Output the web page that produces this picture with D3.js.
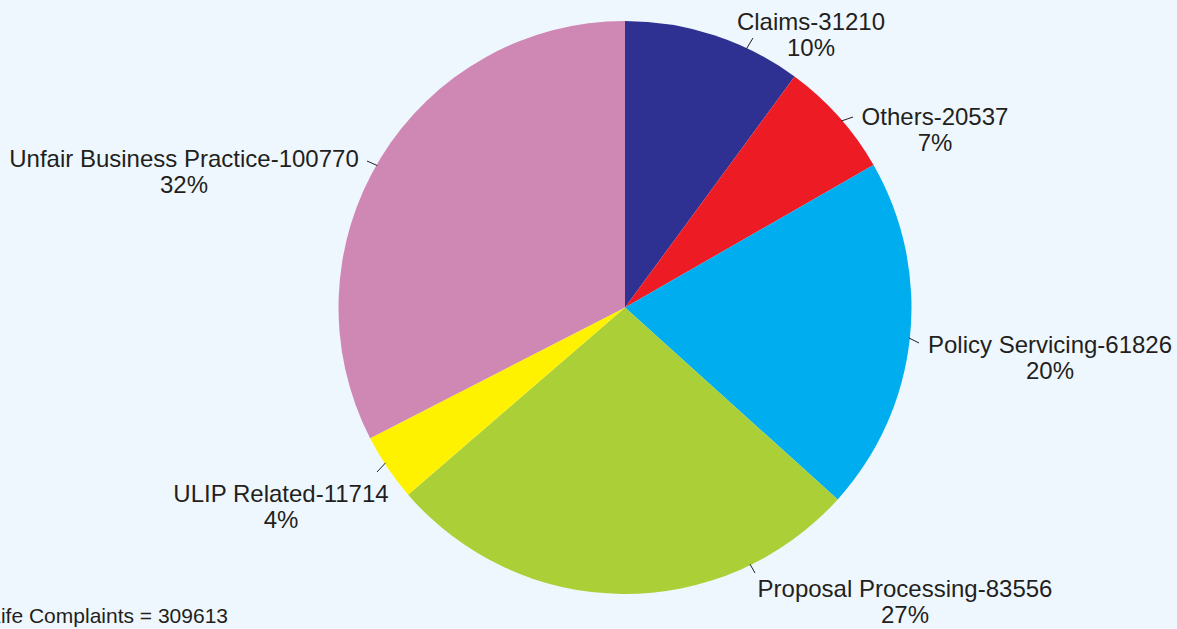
<!DOCTYPE html>
<html>
<head>
<meta charset="utf-8">
<script src="https://cdn.jsdelivr.net/npm/d3@7"></script>
<style>
  html, body { margin: 0; padding: 0; background: #eff7fe; }
  svg { display: block; font-family: "Liberation Sans", Arial, sans-serif; }
</style>
</head>
<body>
<div id="chart"></div>
<script>
// Data
var categories = ["Claims", "Others", "Policy Servicing", "Proposal Processing", "ULIP Related", "Unfair Business Practice"];
var values = [31210, 20537, 61826, 83556, 11714, 100770];
var percentLabels = ["10%", "7%", "20%", "27%", "4%", "32%"];
var totalLabel = "Total Life Complaints = 309613";

var colors = ["#2e3192", "#ed1c24", "#00aeef", "#abd037", "#fff200", "#cf88b4"];

// Label layout (label centre / first baseline, leader outer end, leader angle nudge in degrees)
var labelLayout = {
    "Claims":                   { x: 811,  y: 30,  lx: 753, ly: 38,  nudge: 7 },
    "Others":                   { x: 935,  y: 125, lx: 853, ly: 117, nudge: 1 },
    "Policy Servicing":         { x: 1050, y: 353, lx: 919, ly: 343, nudge: 0 },
    "Proposal Processing":      { x: 905,  y: 597, lx: 755, ly: 573, nudge: -26.6 },
    "ULIP Related":             { x: 281,  y: 502, lx: 377, ly: 472, nudge: 1 },
    "Unfair Business Practice": { x: 184,  y: 167, lx: 367, ly: 161, nudge: -1.6 }
};

var w = 1177;
var h = 629;
var cx = 625, cy = 307.5, r = 286.5;

var svg = d3.select("#chart")
    .append("svg")
    .attr("width", w)
    .attr("height", h);

svg.append("rect")
    .attr("width", w)
    .attr("height", h)
    .attr("fill", "#eff7fe");

var pie = d3.pie().sort(null).value(function(d) { return d; });
var arcs = pie(values);
var arc = d3.arc().innerRadius(0).outerRadius(r);

var g = svg.append("g").attr("transform", "translate(" + cx + "," + cy + ")");

g.selectAll("path")
    .data(arcs)
    .enter()
    .append("path")
    .attr("d", arc)
    .attr("fill", function(d, i) { return colors[i]; });

// Leader lines
svg.selectAll("line.leader")
    .data(arcs)
    .enter()
    .append("line")
    .attr("class", "leader")
    .attr("x1", function(d, i) {
        var a = (d.startAngle + d.endAngle) / 2 + labelLayout[categories[i]].nudge * Math.PI / 180;
        return cx + (r - 1) * Math.sin(a);
    })
    .attr("y1", function(d, i) {
        var a = (d.startAngle + d.endAngle) / 2 + labelLayout[categories[i]].nudge * Math.PI / 180;
        return cy - (r - 1) * Math.cos(a);
    })
    .attr("x2", function(d, i) { return labelLayout[categories[i]].lx; })
    .attr("y2", function(d, i) { return labelLayout[categories[i]].ly; })
    .attr("stroke", "#231f20")
    .attr("stroke-width", 1);

// Labels
var labels = svg.selectAll("text.label")
    .data(arcs)
    .enter()
    .append("text")
    .attr("class", "label")
    .attr("text-anchor", "middle")
    .attr("font-size", 24)
    .attr("fill", "#231f20");

labels.append("tspan")
    .attr("x", function(d, i) { return labelLayout[categories[i]].x; })
    .attr("y", function(d, i) { return labelLayout[categories[i]].y; })
    .text(function(d, i) { return categories[i] + "-" + values[i]; });

labels.append("tspan")
    .attr("x", function(d, i) { return labelLayout[categories[i]].x; })
    .attr("y", function(d, i) { return labelLayout[categories[i]].y + 26; })
    .text(function(d, i) { return percentLabels[i]; });

// Total note (cut off at the left edge, as in the source)
svg.append("text")
    .attr("x", 228)
    .attr("y", 623)
    .attr("text-anchor", "end")
    .attr("font-size", 21)
    .attr("fill", "#231f20")
    .text(totalLabel);
</script>
</body>
</html>
